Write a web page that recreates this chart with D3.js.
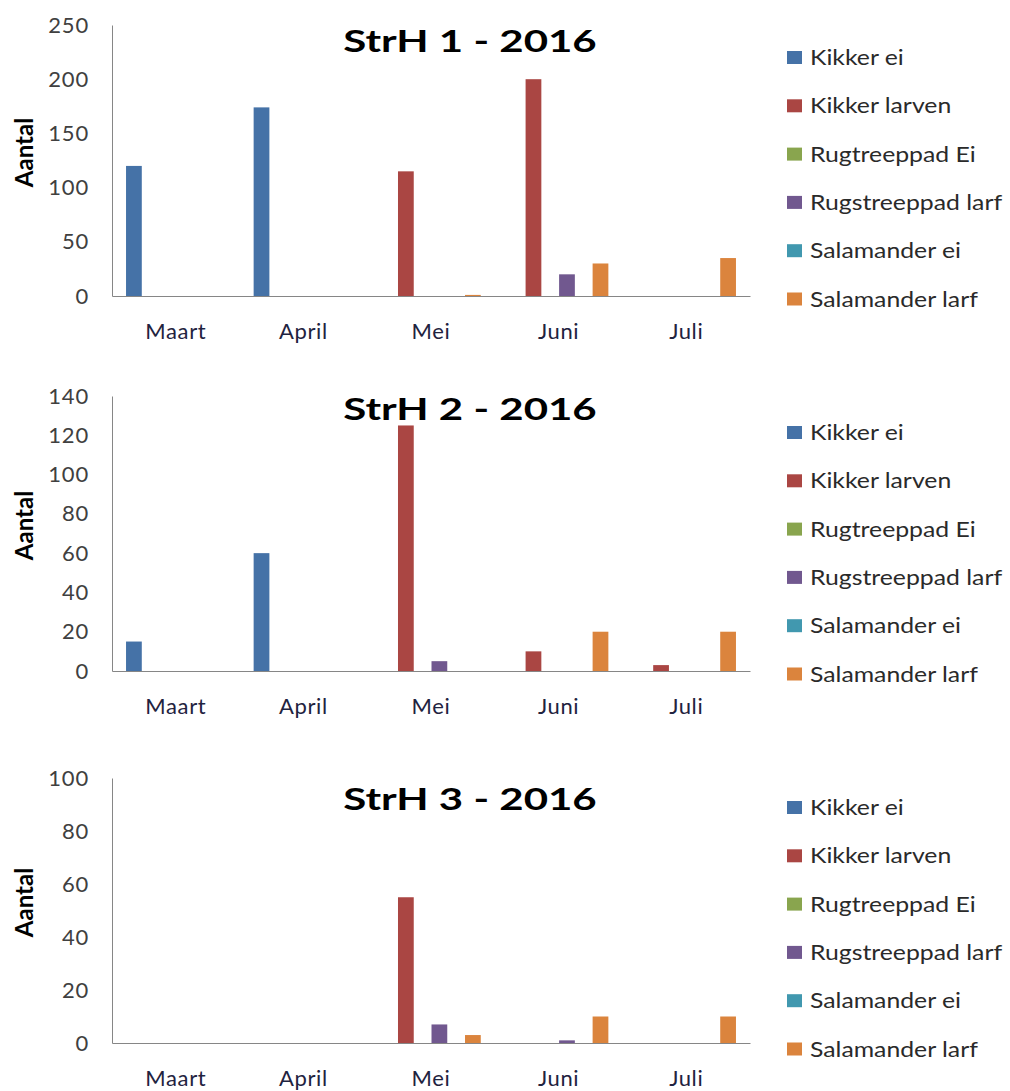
<!DOCTYPE html>
<html>
<head>
<meta charset="utf-8">
<script src="https://cdn.jsdelivr.net/npm/d3@7"></script>
<style>
    body { margin: 0; background: #fff; }
    text { font-family: Lato, "Open Sans", sans-serif; }
</style>
</head>
<body>
<svg id="chart" width="1010" height="1091"></svg>
<script>
const months = ["Maart", "April", "Mei", "Juni", "Juli"];
const seriesNames = ["Kikker ei", "Kikker larven", "Rugtreeppad Ei", "Rugstreeppad larf", "Salamander ei", "Salamander larf"];
const seriesColors = ["#4572a7", "#aa4643", "#89a54e", "#71588f", "#4198af", "#db843d"];

// aantal per serie, per maand (Maart..Juli)
const strh1 = [
    [120, 174, 0, 0, 0],
    [0, 0, 115, 200, 0],
    [0, 0, 0, 0, 0],
    [0, 0, 0, 20, 0],
    [0, 0, 0, 0, 0],
    [0, 0, 1, 30, 35]
];
const strh2 = [
    [15, 60, 0, 0, 0],
    [0, 0, 125, 10, 3],
    [0, 0, 0, 0, 0],
    [0, 0, 5, 0, 0],
    [0, 0, 0, 0, 0],
    [0, 0, 0, 20, 20]
];
const strh3 = [
    [0, 0, 0, 0, 0],
    [0, 0, 55, 0, 0],
    [0, 0, 0, 0, 0],
    [0, 0, 7, 1, 0],
    [0, 0, 0, 0, 0],
    [0, 0, 3, 10, 10]
];
const titles = ["StrH 1 - 2016", "StrH 2 - 2016", "StrH 3 - 2016"];
const ticks1 = [0, 50, 100, 150, 200, 250];
const ticks2 = [0, 20, 40, 60, 80, 100, 120, 140];
const ticks3 = [0, 20, 40, 60, 80, 100];

const panels = [
    { title: titles[0], values: strh1, ticks: ticks1, top: 25, bottom: 296, titleY: 52, legendTop: 58 },
    { title: titles[1], values: strh2, ticks: ticks2, top: 396, bottom: 671, titleY: 420, legendTop: 433 },
    { title: titles[2], values: strh3, ticks: ticks3, top: 778, bottom: 1043, titleY: 810, legendTop: 808 }
];

const svg = d3.select("#chart");
const left = 112, right = 750;

const x0 = d3.scaleBand()
    .domain(months)
    .range([left, right])
    .paddingInner(0.22)
    .paddingOuter(0.11);

const x1 = d3.scaleBand()
    .domain(seriesNames)
    .range([0, x0.bandwidth()])
    .paddingInner(0.06);

const color = d3.scaleOrdinal(seriesNames, seriesColors);

panels.forEach(p => {
    const g = svg.append("g");
    const y = d3.scaleLinear()
        .domain([0, d3.max(p.ticks)])
        .range([p.bottom, p.top]);

    // y-as
    const yAxis = g.append("g")
        .attr("transform", `translate(${left},0)`)
        .call(d3.axisLeft(y).tickValues(p.ticks).tickSize(0).tickPadding(23));
    yAxis.select(".domain").attr("stroke", "#868686");
    yAxis.selectAll("text")
        .attr("font-size", "22px")
        .attr("letter-spacing", "0.8px")
        .attr("fill", "#404040")
        .style("font-family", "Lato, sans-serif");

    // bars
    const flat = [];
    p.values.forEach((row, si) => row.forEach((v, mi) => {
        flat.push({ month: months[mi], series: seriesNames[si], value: v });
    }));
    g.selectAll("rect.bar")
        .data(flat.filter(d => d.value > 0))
        .join("rect")
        .attr("class", "bar")
        .attr("x", d => x0(d.month) + x1(d.series))
        .attr("width", x1.bandwidth())
        .attr("y", d => y(d.value))
        .attr("height", d => y(0) - y(d.value))
        .attr("fill", d => color(d.series));

    // x-as
    const xAxis = g.append("g")
        .attr("transform", `translate(0,${p.bottom})`)
        .call(d3.axisBottom(x0).tickSize(0).tickPadding(27).tickSizeOuter(0));
    xAxis.select(".domain").attr("stroke", "#868686");
    xAxis.selectAll("text")
        .attr("font-size", "22px")
        .attr("letter-spacing", "0.6px")
        .attr("fill", "#1f2340")
        .style("font-family", "Lato, sans-serif");

    // titel (horizontaal uitgerekt zoals het origineel)
    g.append("text")
        .attr("transform", `translate(470,${p.titleY}) scale(1.4,1)`)
        .attr("text-anchor", "middle")
        .attr("font-size", "30px")
        .attr("font-weight", "bold")
        .attr("fill", "#000")
        .text(p.title);

    // y-titel
    g.append("text")
        .attr("transform", `translate(33,${(p.top + p.bottom) / 2 - 8}) rotate(-90)`)
        .attr("text-anchor", "middle")
        .attr("font-size", "24px")
        .attr("font-weight", "bold")
        .attr("fill", "#000")
        .text("Aantal");

    // legenda
    const legend = g.append("g")
        .attr("transform", `translate(787,${p.legendTop})`);
    const item = legend.selectAll("g")
        .data(seriesNames)
        .join("g")
        .attr("transform", (d, i) => `translate(0,${i * 48.3})`);
    item.append("rect")
        .attr("x", 0)
        .attr("y", -7)
        .attr("width", 15)
        .attr("height", 13)
        .attr("fill", d => color(d));
    item.append("text")
        .attr("transform", "translate(23,7) scale(1.18,1)")
        .attr("font-size", "21px")
        .attr("fill", "#2a2a2a")
        .text(d => d);
});
</script>
</body>
</html>
